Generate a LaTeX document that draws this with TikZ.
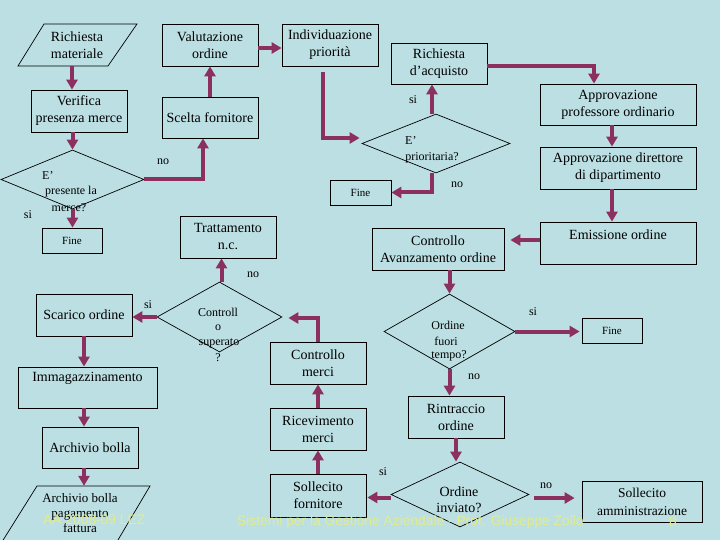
\documentclass[tikz,border=0pt]{standalone}
\usepackage{fontspec}
\setmainfont{Liberation Serif}
\newfontfamily\footfont{Liberation Sans}
\usetikzlibrary{shapes.geometric,arrows.meta}
\definecolor{bgc}{RGB}{188,223,227}
\definecolor{arrowc}{RGB}{140,48,96}
\definecolor{footc}{RGB}{226,236,140}
\tikzset{
  box/.style={draw=black, line width=0.7pt, inner sep=0pt, align=center, font=\fontsize{14}{17}\selectfont},
  plain/.style={inner sep=0pt, align=center, font=\fontsize{14}{17}\selectfont},
  dia/.style={diamond, draw=black, line width=0.7pt, inner sep=0pt},
  txt/.style={inner sep=0pt, align=center, font=\fontsize{12}{14}\selectfont},
  lab/.style={inner sep=0pt, font=\fontsize{12}{14}\selectfont},
  finebox/.style={box, minimum width=60pt, minimum height=25pt, font=\fontsize{11}{13}\selectfont},
  arr/.style={draw=arrowc, line width=4pt, -{Triangle[length=10pt,width=11pt]}},
  foot/.style={inner sep=0pt, text=footc, font=\footfont\fontsize{13.8}{16}\selectfont}
}
\begin{document}
\begin{tikzpicture}[x=1pt,y=-1pt]
\useasboundingbox (0,0) rectangle (720,540);
\fill[bgc] (0,0) rectangle (720,540);
\clip (0,0) rectangle (720,540);

% parallelogram 1
\draw[line width=0.7pt] (44,24) -- (137,24) -- (108,66) -- (18,66) -- cycle;
\node[plain, minimum height=42pt] (richmat) at (77,45) {Richiesta\\materiale};

% boxes
\node[box, minimum width=96pt, minimum height=42pt] (valut) at (210,45) {Valutazione\\ordine};
\node[box, minimum width=96pt, minimum height=42pt] (indiv) at (330,45) {Individuazione\\priorità};
\node[box, minimum width=96pt, minimum height=41pt] (richacq) at (439,63.5) {Richiesta\\d’acquisto};
\node[box, minimum width=96pt, minimum height=42pt] (verif) at (79,111) {Verifica\\presenza merce};
\node[box, minimum width=96pt, minimum height=41pt] (scelta) at (210,117.5) {Scelta fornitore};
\node[box, minimum width=156pt, minimum height=41pt] (approf) at (618,104.5) {Approvazione\\professore ordinario};
\node[box, minimum width=156pt, minimum height=42pt] (appdir) at (618,168) {Approvazione direttore\\di dipartimento};
\node[box, minimum width=156pt, minimum height=42pt] (emiss) at (618,243) {};
\node[plain] (emisst) at (618,235) {Emissione ordine};
\node[box, minimum width=132pt, minimum height=42pt] (ctrlav) at (438,249) {Controllo\\Avanzamento ordine};
\node[box, minimum width=96pt, minimum height=42pt] (tratt) at (228,237) {Trattamento\\n.c.};
\node[finebox] (fineL) at (72,240.5) {Fine};
\node[finebox, minimum width=61pt] (fineM) at (360.5,192.5) {Fine};
\node[finebox] (fineR) at (612,330.5) {Fine};
\node[box, minimum width=96pt, minimum height=42pt] (scarico) at (84,315) {Scarico ordine};
\node[box, minimum width=139pt, minimum height=41pt] (immag) at (87.5,387.5) {};
\node[plain] (immagt) at (87.5,378) {Immagazzinamento};
\node[box, minimum width=96pt, minimum height=41pt] (archb) at (90,447.5) {Archivio bolla};
\node[box, minimum width=96pt, minimum height=42pt] (ctrlm) at (318,363) {Controllo\\merci};
\node[box, minimum width=96pt, minimum height=42pt] (ricev) at (318,429) {Ricevimento\\merci};
\node[box, minimum width=96pt, minimum height=43pt] (sollf) at (318,495.5) {Sollecito\\fornitore};
\node[box, minimum width=96pt, minimum height=42pt] (rintr) at (456,417) {Rintraccio\\ordine};
\node[box, minimum width=120pt, minimum height=41pt, font=\fontsize{13.5}{18}\selectfont] (sollamm) at (642,501.5) {Sollecito\\amministrazione};

% parallelogram 2
\draw[line width=0.7pt] (37,486) -- (150,486) -- (115,545) -- (0,545) -- cycle;
\node[inner sep=0pt, minimum height=54pt] (archpag) at (84,513) {};
\node[txt, font=\fontsize{13}{15}\selectfont] (archpagt) at (80,513) {Archivio bolla\\pagamento\\fattura};

% diamonds
\node[dia, minimum width=143pt, minimum height=59pt] (D1) at (72.5,179.5) {};
\node[txt, anchor=west] (D1a) at (42,176) {E’};
\node[txt] (D1b) at (71,192) {presente la};
\node[txt] (D1c) at (69,208) {merce?};

\node[dia, minimum width=148pt, minimum height=59pt] (D2) at (436,143.5) {};
\node[txt, anchor=west] (D2a) at (405,141) {E’};
\node[txt] (D2b) at (432,158) {prioritaria?};

\node[dia, minimum width=125pt, minimum height=70pt] (D3) at (219.5,317) {};
\node[txt] (D3a) at (218,312) {Controll};
\node[txt] (D3b) at (218,328) {o};
\node[txt] (D3c) at (219,343) {superato};
\node[txt] (D3d) at (218,358) {?};

\node[dia, minimum width=131pt, minimum height=75pt] (D4) at (449.5,331.5) {};
\node[txt] (D4a) at (448,325) {Ordine};
\node[txt] (D4b) at (446,341) {fuori};
\node[txt] (D4c) at (449,356) {tempo?};

\node[dia, minimum width=138pt, minimum height=65pt] (D5) at (460,494.5) {};
\node[txt, font=\fontsize{14}{16}\selectfont] (D5a) at (459,492) {Ordine};
\node[txt, font=\fontsize{14}{16}\selectfont] (D5b) at (459,508) {inviato?};

% labels
\node[lab] (l1) at (163,162) {no};
\node[lab] (l2) at (28,215) {si};
\node[lab] (l3) at (413,100) {si};
\node[lab] (l4) at (457,185) {no};
\node[lab] (l5) at (253,275) {no};
\node[lab] (l6) at (148,305) {si};
\node[lab] (l7) at (533,312) {si};
\node[lab] (l8) at (474,377) {no};
\node[lab] (l9) at (383,472) {si};
\node[lab] (l10) at (546,486) {no};

% arrows
\draw[arr] ([xshift=-5pt]richmat.south) -- ([xshift=-5pt]richmat.south |- verif.north);
\draw[arr] (D1.north |- verif.south) -- (D1.north);
\draw[arr] (D1.east) -| ([xshift=-7pt]scelta.south);
\draw[arr] (scelta.north) -- (valut.south);
\draw[arr] ([yshift=-3pt]valut.east) -- ([yshift=-3pt]indiv.west);
\draw[arr] ([xshift=-7pt,yshift=-6pt]indiv.south) |- ([xshift=-2pt,yshift=5.5pt]D2.west);
\draw[arr] ([xshift=-4pt]D2.north) -- ([xshift=-4pt]D2.north |- richacq.south);
\draw[arr] ([xshift=-4pt]D2.south) |- (fineM.east);
\draw[arr] ([yshift=-2.5pt]richacq.east) -| ([xshift=-24pt]approf.north);
\draw[arr] ([xshift=-6pt]approf.south) -- ([xshift=-6pt]appdir.north);
\draw[arr] ([xshift=-6pt]appdir.south) -- ([xshift=-6pt]emiss.north);
\draw[arr] ([yshift=3pt]emiss.west) -- ([xshift=6pt,yshift=3pt]emiss.west -| ctrlav.east);
\draw[arr] (D1.south) -- (D1.south |- fineL.north);
\draw[arr] ([xshift=2pt]D3.north) -- ([xshift=2pt]D3.north |- tratt.south);
\draw[arr] (D3.west) -- (D3.west -| scarico.east);
\draw[arr] (scarico.south) -- (scarico.south |- immag.north);
\draw[arr] ([xshift=-6pt]archb.north |- immag.south) -- ([xshift=-6pt]archb.north);
\draw[arr] ([xshift=-6pt]archb.south) -- ([xshift=-6pt]archb.south |- archpag.north);
\draw[arr] (ctrlm.north) |- ([xshift=6pt,yshift=-1pt]D3.east);
\draw[arr] (ricev.north) -- (ctrlm.south);
\draw[arr] (sollf.north) -- (ricev.south);
\draw[arr] (D4.north |- ctrlav.south) -- (D4.north);
\draw[arr] (D4.east) -- ([xshift=-2pt]D4.east -| fineR.west);
\draw[arr] (D4.south) -- (D4.south |- rintr.north);
\draw[arr] (rintr.south) -- (rintr.south |- D5.north);
\draw[arr] ([yshift=-3pt]D5.west) -- ([xshift=1pt,yshift=-3pt]D5.west -| sollf.east);
\draw[arr] ([xshift=5pt,yshift=-3.5pt]D5.east) -- ([xshift=-7pt,yshift=-3.5pt]D5.east -| sollamm.west);

% footer
\node[foot, anchor=west] (f1) at (43,520) {AA 2008-09 LEZ};
\node[foot, anchor=west] (f2) at (237,522) {Sistemi per la Gestione Aziendale - Prof. Giuseppe Zollo};
\node[foot] (f3) at (673,522) {8};
\end{tikzpicture}
\end{document}
